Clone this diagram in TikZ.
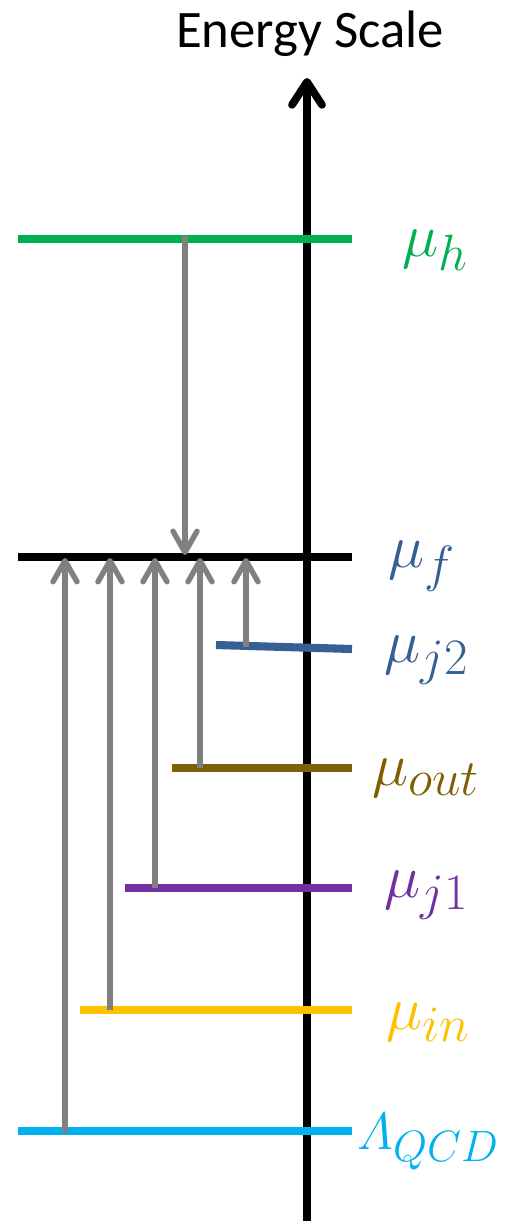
\documentclass[tikz,border=0pt]{standalone}
\usepackage{amsmath,amssymb}
\usepackage{fontspec}
\newfontfamily\calib{Carlito}
\usetikzlibrary{arrows.meta}
\usepackage{xcolor}
\definecolor{levh}{RGB}{0,176,80}
\definecolor{levjtwo}{RGB}{55,96,146}
\definecolor{levout}{RGB}{127,96,0}
\definecolor{levjone}{RGB}{112,48,160}
\definecolor{levin}{RGB}{255,192,0}
\definecolor{levqcd}{RGB}{0,176,240}
\definecolor{flowgray}{RGB}{128,128,128}
\newcommand{\itLambda}{\mathchar"0103}

\begin{document}
\begin{tikzpicture}[x=0.02cm,y=-0.02cm,line cap=butt,
  level/.style={line width=4.6pt},
  flow/.style={flowgray,line width=3.1pt,-{Straight Barb[length=4.2mm,width=4.8mm,round,line width=3.1pt]}},
  lab/.style={anchor=west,inner sep=0pt,scale=1.4,font=\Huge}]
\useasboundingbox (0,0) rectangle (510,1221);
% energy axis
\coordinate (axbot) at (307,1221);
\coordinate (axtop) at (307,78);
\draw[line width=4.4pt,-{Straight Barb[length=4.6mm,width=6.0mm,round,line width=4.4pt]}] (axbot) -- (axtop);
\node[font=\calib\fontsize{30}{34}\selectfont,inner sep=0pt] (title) at (310,34) {Energy Scale};
% scales
\draw[level,levh] (18,239) coordinate (hL) -- (352,239) coordinate (hR);
\draw[level,black] (18,557) coordinate (fL) -- (352,557) coordinate (fR);
\draw[level,levjtwo] (216,645) coordinate (jtwoL) -- (352,649) coordinate (jtwoR);
\draw[level,levout] (172,768) coordinate (outL) -- (352,768) coordinate (outR);
\draw[level,levjone] (125,888) coordinate (joneL) -- (352,888) coordinate (joneR);
\draw[level,levin] (80,1010) coordinate (inL) -- (352,1010) coordinate (inR);
\draw[level,levqcd] (18,1131) coordinate (qcdL) -- (352,1131) coordinate (qcdR);
\node[lab,levh] (muh) at (402,250) {$\mu_h$};
\node[lab,levjtwo] (muf) at (388,566) {$\mu_f$};
\node[lab,levjtwo] (mujtwo) at (384,660) {$\mu_{j2}$};
\node[lab,levout] (muout) at (372,778) {$\mu_{out}$};
\node[lab,levjone] (mujone) at (384,895) {$\mu_{j1}$};
\node[lab,levin] (muin) at (386,1022) {$\mu_{in}$};
\node[lab,levqcd,scale=0.86] (lqcd) at (357,1142) {$\itLambda_{QCD}$};
% running between scales
\coordinate (h1) at (185,236);
\coordinate (f0) at (185,555);
\coordinate (q1) at (65,1133);
\coordinate (f1) at (65,558);
\coordinate (i1) at (110,1010);
\coordinate (f2) at (110,558);
\coordinate (o1) at (155,888);
\coordinate (f3) at (155,558);
\coordinate (t1) at (200,768);
\coordinate (f4) at (200,558);
\coordinate (j1) at (246,647);
\coordinate (f5) at (246,558);
\draw[flow] (h1) -- (f0);
\draw[flow] (q1) -- (f1);
\draw[flow] (i1) -- (f2);
\draw[flow] (o1) -- (f3);
\draw[flow] (t1) -- (f4);
\draw[flow] (j1) -- (f5);
\end{tikzpicture}
\end{document}
